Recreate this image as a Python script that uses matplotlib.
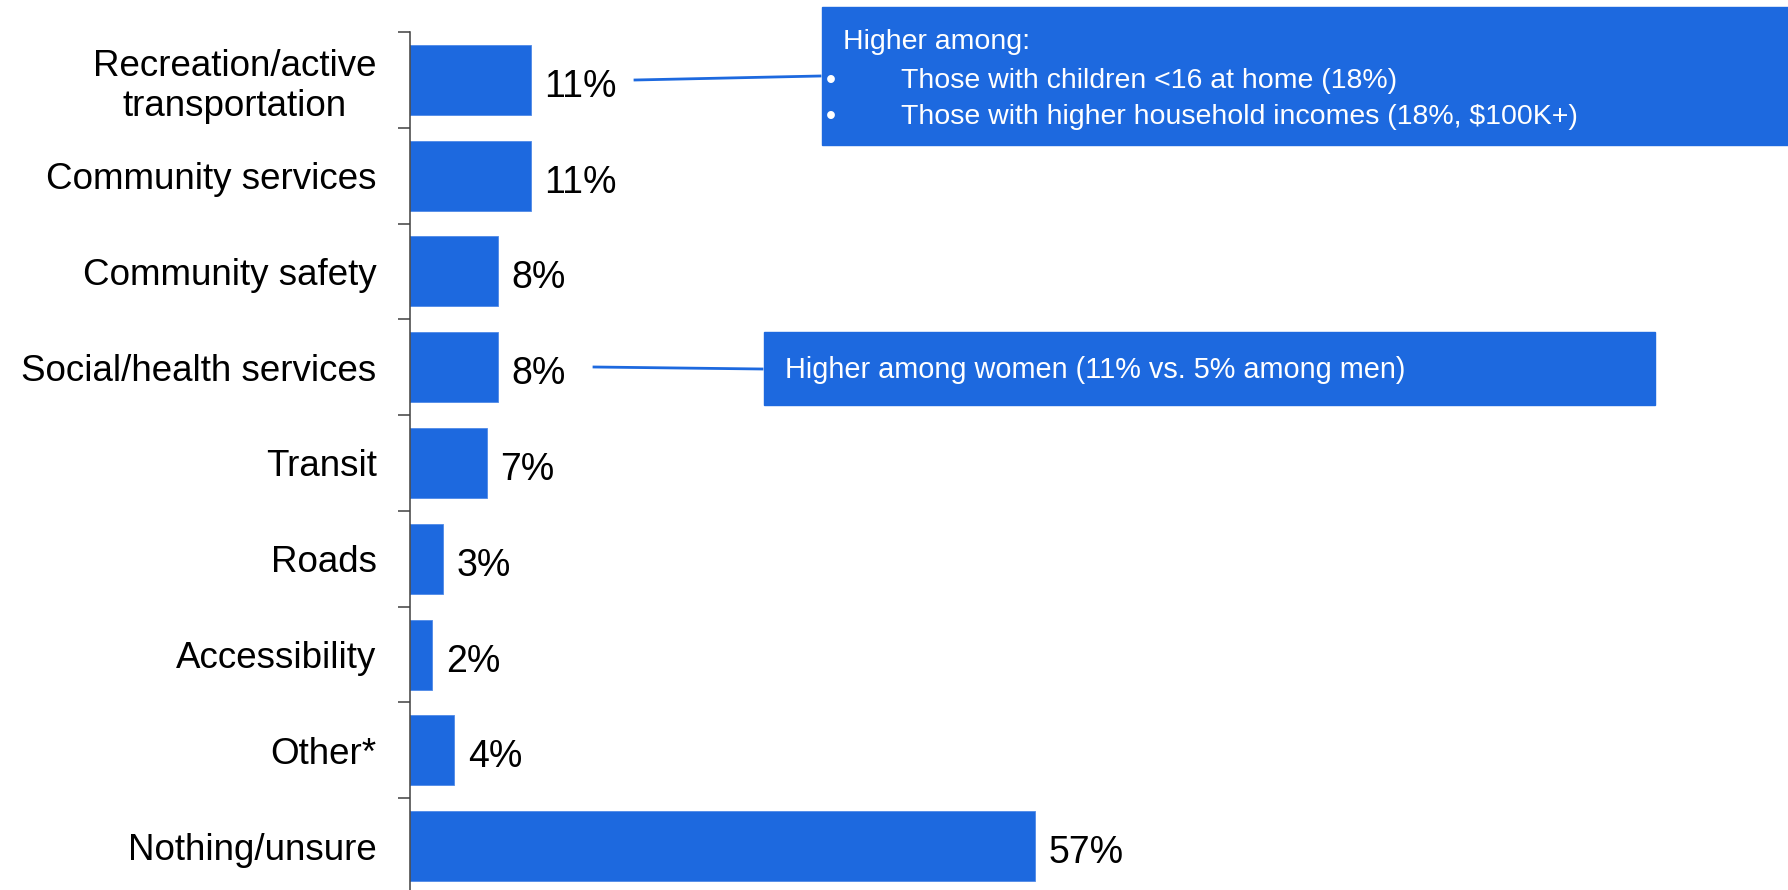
import matplotlib.pyplot as plt
import numpy as np
from matplotlib.patches import Rectangle
from matplotlib.lines import Line2D

plt.rcParams['font.family'] = ['Liberation Sans', 'DejaVu Sans']

# data
categories = ["Recreation/active\ntransportation", "Community services", "Community safety",
              "Social/health services", "Transit", "Roads", "Accessibility", "Other*",
              "Nothing/unsure"]
values = [11, 11, 8, 8, 7, 3, 2, 4, 57]
value_labels = ["11%", "11%", "8%", "8%", "7%", "3%", "2%", "4%", "57%"]

note1_title = "Higher among:"
note1_bullets = ["Those with children <16 at home (18%)",
                 "Those with higher household incomes (18%, $100K+)"]
note2_text = "Higher among women (11% vs. 5% among men)"

BLUE = "#1D69DF"
W, H = 1788, 890

fig = plt.figure(figsize=(W / 100, H / 100), dpi=100)
ax = fig.add_axes([410 / W, -4 / H, 1 - 410 / W, 862 / H])

y = np.arange(len(categories))
ax.barh(y, values, height=0.73, color=BLUE, edgecolor="#4f8ae8", linewidth=0.6)
ax.set_ylim(len(categories) - 0.5, -0.5)
ax.set_xlim(0, 1378 / 10.96)

ax.set_yticks(y)
ax.set_yticklabels(categories, fontsize=26.5, multialignment="center")
ax.tick_params(axis="y", which="major", length=0, pad=24)
ax.set_yticks(np.arange(len(categories)) - 0.5, minor=True)
ax.tick_params(axis="y", which="minor", length=8.6, width=1.1, color="#404040")
ax.xaxis.set_visible(False)
for s in ["top", "right", "bottom"]:
    ax.spines[s].set_visible(False)
ax.spines["left"].set_color("#404040")
ax.spines["left"].set_linewidth(1.1)

for yi, v, lab in zip(y, values, value_labels):
    ax.annotate(lab, (v, yi), xytext=(10, -5), textcoords="offset points",
                va="center", ha="left", fontsize=27, color="black")

# callout boxes (figure pixel coords)
def fx(px):
    return px / W

def fy(py):
    return 1 - py / H

fig.patches.append(Rectangle((fx(822), fy(145)), fx(1788 - 822), (145 - 7) / H,
                             transform=fig.transFigure, color=BLUE, zorder=0))
fig.text(fx(843), fy(42), note1_title, color="white", fontsize=20.5, va="center")
for i, b in enumerate(note1_bullets):
    fig.text(fx(826), fy(81 + 36 * i), "\u2022", color="white", fontsize=20.5, va="center")
    fig.text(fx(901), fy(81 + 36 * i), b, color="white", fontsize=20.5, va="center")
fig.lines.append(Line2D([fx(635), fx(820)], [fy(80), fy(76)], transform=fig.transFigure,
                        color=BLUE, linewidth=2))

fig.patches.append(Rectangle((fx(764), fy(405)), fx(1655 - 764), (405 - 332) / H,
                             transform=fig.transFigure, color=BLUE, zorder=0))
fig.text(fx(785), fy(370), note2_text, color="white", fontsize=20.8, va="center")
fig.lines.append(Line2D([fx(594), fx(762)], [fy(367), fy(369)], transform=fig.transFigure,
                        color=BLUE, linewidth=2))

fig.savefig("out.png", dpi=100)
